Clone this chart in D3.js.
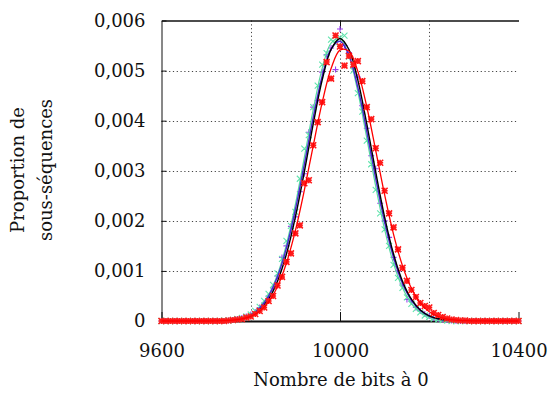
<!DOCTYPE html>
<meta charset="utf-8">
<style>
body { margin: 0; background: #fff; font-family: "DejaVu Serif", serif; }
svg text { font-family: "DejaVu Serif", serif; font-size: 18px; fill: #111; }
.grid line { stroke: #444; stroke-width: 1; stroke-dasharray: 1.2,2.6; }
.axis path, .axis line { stroke: #111; }
</style>
<body>
<script src="https://cdn.jsdelivr.net/npm/d3@7"></script>
<script>
// histogram bins (number of zero bits), step 10
var binX = [9600,9610,9620,9630,9640,9650,9660,9670,9680,9690,9700,9710,9720,9730,9740,
  9750,9760,9770,9780,9790,9800,9810,9820,9830,9840,9850,9860,9870,9880,9890,
  9900,9910,9920,9930,9940,9950,9960,9970,9980,9990,10000,10010,10020,10030,10040,
  10050,10060,10070,10080,10090,10100,10110,10120,10130,10140,10150,10160,10170,10180,10190,
  10200,10210,10220,10230,10240,10250,10260,10270,10280,10290,10300,10310,10320,10330,10340,
  10350,10360,10370,10380,10390,10400];

var purplePts = [0,0,0,0,0,0,0,0,0,0,0,0,0,0,0,
  0.00001,0.00002,0.00004,0.00006,0.00009,0.00013,0.00018,0.00027,0.00036,0.00050,0.00066,0.00090,0.00127,0.00150,0.00189,
  0.00208,0.00258,0.00294,0.00377,0.00427,0.00440,0.00497,0.00532,0.00545,0.00502,0.00583,0.00550,0.00536,0.00505,0.00487,
  0.00430,0.00385,0.00330,0.00304,0.00235,0.00200,0.00167,0.00127,0.00100,0.00074,0.00043,0.00040,0.00027,0.00020,0.00014,
  0.00010,0.00006,0.00004,0.00003,0.00002,0.00001,0,0,0,0,0,0,0,0,0,
  0,0,0,0,0,0];

var mintPts = [0,0,0,0,0,0,0,0,0,0,0,0,0,0,0.00001,
  0.00001,0.00002,0.00004,0.00006,0.00009,0.00013,0.00020,0.00028,0.00040,0.00054,0.00072,0.00095,0.00124,0.00160,0.00190,
  0.00218,0.00284,0.00344,0.00371,0.00427,0.00470,0.00512,0.00535,0.00562,0.00555,0.00566,0.00570,0.00528,0.00500,0.00455,
  0.00418,0.00360,0.00313,0.00262,0.00215,0.00183,0.00150,0.00112,0.00086,0.00066,0.00047,0.00034,0.00024,0.00017,0.00011,
  0.00008,0.00005,0.00003,0.00002,0.00001,0,0,0,0,0,0,0,0,0,0,
  0,0,0,0,0,0];

var redPts = [0,0,0,0,0,0,0,0,0,0,0,0,0,0,0,
  0.00001,0.00002,0.00003,0.00004,0.00007,0.00009,0.00014,0.00020,0.00027,0.00040,0.00050,0.00071,0.00088,0.00118,0.00135,
  0.00175,0.00191,0.00275,0.00281,0.00351,0.00397,0.00437,0.00517,0.00484,0.00570,0.00548,0.00510,0.00529,0.00512,0.00519,
  0.00479,0.00427,0.00403,0.00345,0.00316,0.00260,0.00215,0.00187,0.00143,0.00106,0.00080,0.00062,0.00048,0.00036,0.00030,
  0.00027,0.00016,0.00012,0.00008,0.00005,0.00003,0.00002,0.00001,0.00001,0,0,0,0,0,0,
  0,0,0,0,0,0];

// fitted curves, step 20
var curveX = [9600,9620,9640,9660,9680,9700,9720,9740,9760,9780,9800,9820,9840,9860,9880,9900,9920,9940,9960,9980,
  10000,10020,10040,10060,10080,10100,10120,10140,10160,10180,10200,10220,10240,10260,10280,10300,10320,10340,10360,10380,10400];

var blackLine = [0,0,0,0,0,0,0,0.0000065,0.0000178,0.0000446,0.000103,0.000221,0.000436,0.000795,0.001337,0.002076,0.002975,0.003936,0.004808,0.005421,
  0.005642,0.005421,0.004808,0.003936,0.002975,0.002076,0.001337,0.000795,0.000436,0.000221,0.000103,0.0000446,0.0000178,0.0000065,0,0,0,0,0,0,0];

var purpleLine = [0,0,0,0,0,0.000001,0.000003,0.0000086,0.0000227,0.0000552,0.000124,0.000259,0.000498,0.000887,0.00146,0.002221,0.003125,0.004064,0.004887,0.005434,
  0.005585,0.005307,0.004663,0.003788,0.002844,0.001975,0.001268,0.000752,0.000413,0.000209,0.0000982,0.0000426,0.000017,0.0000063,0.0000022,0.0000007,0,0,0,0,0];

var mintLine = [0,0,0,0,0,0.0000009,0.000003,0.0000086,0.0000229,0.0000565,0.000128,0.000269,0.000521,0.000929,0.001531,0.002327,0.003262,0.004221,0.005039,0.00555,
  0.00564,0.005288,0.004575,0.003652,0.00269,0.001828,0.001146,0.000663,0.000354,0.000174,0.0000792,0.0000332,0.0000128,0.0000046,0.0000015,0,0,0,0,0,0];

var redLine = [0,0,0,0,0,0,0.0000023,0.0000065,0.000017,0.0000414,0.0000935,0.000196,0.000382,0.00069,0.001159,0.001804,0.002608,0.003499,0.004359,0.00504,
  0.005409,0.005389,0.004984,0.004278,0.003409,0.002522,0.001731,0.001104,0.000653,0.000359,0.000183,0.0000865,0.000038,0.0000155,0.0000059,0.0000021,0.0000007,0,0,0,0];

var xTicks = [9600, 10000, 10400],
    xGrid = [9800, 10000, 10200],
    yTicks = [0, 0.001, 0.002, 0.003, 0.004, 0.005, 0.006],
    yGrid = [0.001, 0.002, 0.003, 0.004, 0.005];

var W = 553, H = 407;
var mLeft = 161.5, mRight = 518.5, mTop = 20.5, mBottom = 321;

var x = d3.scaleLinear().domain([9600, 10400]).range([mLeft, mRight]);
var y = d3.scaleLinear().domain([0, 0.006]).range([mBottom, mTop]);

var fr = d3.formatLocale({decimal: ",", thousands: "", grouping: [3], currency: ["", ""]});
var fmtY = function(d) { return d === 0 ? "0" : fr.format(".3f")(d); };

var svg = d3.select("body").append("svg")
    .attr("width", W)
    .attr("height", H);

// grid
var grid = svg.append("g").attr("class", "grid");
grid.selectAll(".gy").data(yGrid).enter().append("line")
    .attr("x1", mLeft).attr("x2", mRight)
    .attr("y1", function(d) { return Math.round(y(d)) + 0.5; })
    .attr("y2", function(d) { return Math.round(y(d)) + 0.5; });
grid.selectAll(".gx").data(xGrid).enter().append("line")
    .attr("x1", function(d) { return Math.round(x(d)) + 0.5; })
    .attr("x2", function(d) { return Math.round(x(d)) + 0.5; })
    .attr("y1", mTop).attr("y2", mBottom);

// axes
svg.append("g").attr("class", "axis")
    .attr("transform", "translate(" + mLeft + ",0)")
    .call(d3.axisLeft(y).tickValues(yTicks).tickFormat(fmtY)
      .tickSizeInner(-5).tickSizeOuter(0).tickPadding(16))
    .call(function(g) { g.selectAll("text").style("font-size", "18px").style("font-family", "DejaVu Serif"); });

svg.append("g").attr("class", "axis")
    .attr("transform", "translate(0," + mBottom + ")")
    .call(d3.axisBottom(x).tickValues(xTicks).tickFormat(d3.format("d"))
      .tickSizeInner(-9).tickSizeOuter(0).tickPadding(23))
    .call(function(g) {
      g.select(".domain").attr("stroke-width", 1.8);
      g.selectAll("text").style("font-size", "18px").style("font-family", "DejaVu Serif");
    });

svg.append("g").attr("class", "axis")
    .attr("transform", "translate(0," + mTop + ")")
    .call(d3.axisTop(x).tickValues([10000]).tickFormat("")
      .tickSizeInner(-9).tickSizeOuter(0))
    .call(function(g) { g.select(".domain").attr("stroke", "#333").attr("stroke-width", 1.5); });

// markers
var plot = svg.append("g");

function drawPoints(vals, color, shape) {
  var s = 3;
  var path = binX.map(function(b, i) {
    var px = x(b), py = y(vals[i]), d = "";
    if (shape !== "x") d += "M" + (px - s) + "," + py + "h" + (2 * s) + "M" + px + "," + (py - s) + "v" + (2 * s);
    if (shape !== "+") d += "M" + (px - s) + "," + (py - s) + "l" + (2 * s) + "," + (2 * s) +
                            "M" + (px - s) + "," + (py + s) + "l" + (2 * s) + "," + (-2 * s);
    return d;
  }).join("");
  plot.append("path").attr("d", path).attr("fill", "none")
      .attr("stroke", color).attr("stroke-width", shape === "*" ? 1.6 : 1.1);
}

function drawLine(vals, color, w) {
  var line = d3.line()
      .x(function(d, i) { return x(curveX[i]); })
      .y(function(d) { return y(d); })
      .curve(d3.curveCatmullRom);
  plot.append("path").datum(vals).attr("d", line)
      .attr("fill", "none").attr("stroke", color).attr("stroke-width", w);
}

drawPoints(purplePts, "#9a3ff0", "+");
drawPoints(mintPts, "#62e4ae", "x");
drawLine(mintLine, "#55d9a0", 1.2);
drawLine(purpleLine, "#4a22d6", 1.4);
drawLine(blackLine, "#000", 1.4);
drawPoints(redPts, "#ff1a1a", "*");
drawLine(redLine, "#ff0000", 1.3);

// axis titles
svg.append("text")
    .attr("x", 341).attr("y", 386)
    .attr("text-anchor", "middle")
    .text("Nombre de bits à 0");

var yt = svg.append("text")
    .attr("transform", "translate(0,170) rotate(-90)")
    .attr("text-anchor", "middle");
yt.append("tspan").attr("x", 0).attr("y", 24).text("Proportion de");
yt.append("tspan").attr("x", 0).attr("y", 52).text("sous-séquences");
</script>
